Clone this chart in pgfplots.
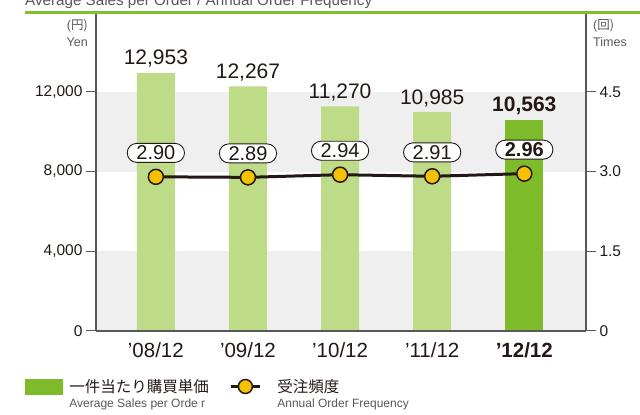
\documentclass[border=0pt]{standalone}
\usepackage{pgfplots}
\pgfplotsset{compat=1.18}
\usepackage{fontspec}
\setmainfont{Liberation Sans}
\newfontfamily\jp{Noto Sans CJK JP}
\usetikzlibrary{shapes.misc}

\definecolor{barlight}{HTML}{BEDB88}
\definecolor{bardark}{HTML}{7DBB2A}
\definecolor{bandgray}{HTML}{EFEFEF}
\definecolor{markyellow}{HTML}{F6C200}
\definecolor{linecol}{HTML}{231815}
\definecolor{axiscol}{HTML}{595757}
\definecolor{textdark}{HTML}{231815}
\definecolor{engray}{HTML}{595757}
\definecolor{topgreen}{HTML}{80BF30}

\begin{document}
\begin{tikzpicture}[x=1pt,y=1pt]
% heading strip (cut at the top like the source)
\node[anchor=base west, inner sep=0pt, text=engray, font=\fontsize{15.2}{16}\selectfont] at (25,409) {Average Sales per Order / Annual Order Frequency};
\fill[topgreen] (25,401) rectangle (640,403.5);

% unit labels
\node[anchor=east, inner sep=0pt, text=engray, font=\fontsize{12.5}{13}\selectfont] at (88,389) {(\jp 円)};
\node[anchor=east, inner sep=0pt, text=engray, font=\fontsize{12.5}{13}\selectfont] at (88,373) {Yen};
\node[anchor=west, inner sep=0pt, text=engray, font=\fontsize{12.5}{13}\selectfont] at (593,389) {(\jp 回)};
\node[anchor=west, inner sep=0pt, text=engray, font=\fontsize{12.5}{13}\selectfont] at (593,373) {Times};

% left axis: average sales per order (bars)
\begin{axis}[
  at={(96pt,84pt)}, anchor=south west, scale only axis,
  width=490pt, height=317pt,
  xmin=-0.65, xmax=4.67, ymin=0, ymax=15900,
  axis on top,
  axis x line*=bottom, axis y line*=left,
  axis line style={axiscol, line width=1.2pt, -},
  xtick={0,1,2,3,4},
  xticklabels={’08/12,’09/12,’10/12,’11/12,\textbf{’12/12}},
  x tick style={draw=none},
  ytick={0,4000,8000,12000}, scaled y ticks=false,
  y tick style={axiscol, line width=1pt},
  tick align=outside, major tick length=10pt,
  /pgf/number format/assume math mode=true,
  x tick label style={font=\fontsize{20.5}{20.5}\selectfont, text=textdark, yshift=2pt},
  y tick label style={font=\fontsize{15.5}{16}\selectfont, text=textdark},
]
\fill[bandgray] (axis cs:-0.65,0) rectangle (axis cs:4.67,4000);
\fill[bandgray] (axis cs:-0.65,8000) rectangle (axis cs:4.67,12000);
\addplot[ybar, bar width=38pt, bar shift=0pt, fill=barlight, draw=none,
  nodes near coords,
  nodes near coords style={font=\fontsize{21}{21}\selectfont, text=textdark, anchor=south, inner sep=5pt}]
  coordinates {(0,12953) (1,12267) (2,11270) (3,10985)};
\addplot[ybar, bar width=38pt, bar shift=0pt, fill=bardark, draw=none,
  nodes near coords,
  nodes near coords style={font=\fontsize{21}{21}\selectfont\bfseries, text=textdark, anchor=south, inner sep=5pt}]
  coordinates {(4,10563)};
\end{axis}

% right axis: annual order frequency (line)
\begin{axis}[
  at={(96pt,84pt)}, anchor=south west, scale only axis,
  width=490pt, height=317pt,
  xmin=-0.65, xmax=4.67, ymin=0, ymax=5.9625,
  axis x line=none, axis y line*=right,
  axis line style={axiscol, line width=1.2pt, -},
  ytick={0,1.5,3,4.5}, yticklabels={0,1.5,3.0,4.5},
  y tick style={axiscol, line width=1pt},
  tick align=outside, major tick length=10pt,
  y tick label style={font=\fontsize{15.5}{16}\selectfont, text=textdark},
  legend columns=2,
  legend style={at={(-0.1449,-0.148)}, anchor=north west, draw=none, fill=none,
    inner sep=0pt, outer sep=0pt, column sep=0pt,
    font=\fontsize{12}{14}\selectfont,
    cells={anchor=base west}},
]
\addlegendimage{legend image code/.code={
  \fill[bardark] (0pt,-1pt) rectangle (37pt,14pt);
  \path (0pt,0pt) (42pt,0pt);}}
\addlegendentry{\begin{tabular}[t]{@{}l@{}}\makebox[156pt][l]{\jp\fontsize{15.5}{16}\selectfont\color{textdark}一件当たり購買単価}\\[1pt]{\color{engray}Average Sales per Orde r}\end{tabular}}
\addplot[linecol, line width=3pt, mark=*, mark size=7.5pt,
  mark options={fill=markyellow, draw=linecol, line width=1.5pt},
  point meta=explicit symbolic, nodes near coords,
  nodes near coords style={font=\fontsize{20}{20}\selectfont, text=textdark,
    draw=textdark, line width=0.9pt, fill=white, rounded rectangle,
    inner xsep=6pt, inner ysep=0pt, minimum height=19pt, anchor=south, yshift=14pt},
  legend image code/.code={
    \draw[linecol, line width=3pt] (2pt,6.5pt) -- (31pt,6.5pt);
    \draw[fill=markyellow, draw=linecol, line width=1.5pt] (16.5pt,6.5pt) circle (7pt);
    \path (0pt,0pt) (45pt,0pt);}]
  coordinates {(0,2.90) [2.90] (1,2.89) [2.89] (2,2.94) [2.94] (3,2.91) [2.91] (4,2.96) [\textbf{2.96}]};
\addlegendentry{\begin{tabular}[t]{@{}l@{}}{\jp\fontsize{15.5}{16}\selectfont\color{textdark}受注頻度}\\[1pt]{\color{engray}Annual Order Frequency}\end{tabular}}
\end{axis}

\pgfresetboundingbox
\useasboundingbox (0,0) rectangle (640,415);
\end{tikzpicture}
\end{document}
